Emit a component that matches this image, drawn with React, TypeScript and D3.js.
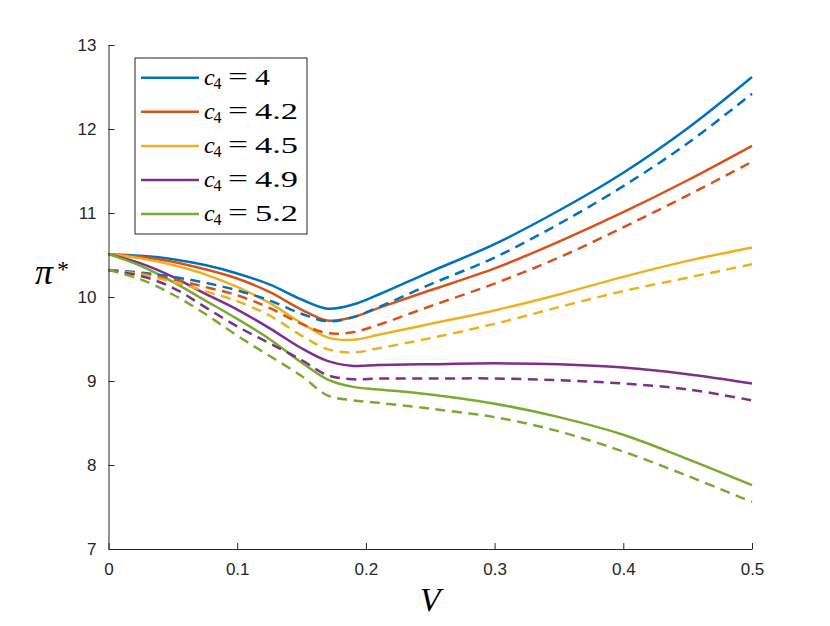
import React, { useEffect, useRef } from "react";
import * as d3 from "d3";

// V grid shared by all curves
const V = [0, 0.025, 0.05, 0.075, 0.1, 0.125, 0.15, 0.17, 0.19, 0.21, 0.25, 0.3, 0.35, 0.4, 0.45, 0.5];

const c4Labels = ["4", "4.2", "4.5", "4.9", "5.2"];
const colors = ["#0072BD", "#D95319", "#EDB120", "#7E2F8E", "#77AC30"];

// solid lines
const blueSolid = [10.51, 10.49, 10.45, 10.38, 10.28, 10.15, 9.97, 9.86, 9.91, 10.03, 10.3, 10.63, 11.03, 11.48, 12.01, 12.62];
const redSolid = [10.51, 10.48, 10.42, 10.33, 10.22, 10.06, 9.85, 9.72, 9.76, 9.87, 10.08, 10.34, 10.66, 11.01, 11.39, 11.8];
const yellowSolid = [10.51, 10.46, 10.38, 10.27, 10.12, 9.93, 9.69, 9.52, 9.49, 9.55, 9.68, 9.84, 10.03, 10.24, 10.43, 10.59];
const purpleSolid = [10.51, 10.4, 10.24, 10.04, 9.85, 9.63, 9.39, 9.24, 9.18, 9.19, 9.2, 9.21, 9.2, 9.16, 9.08, 8.97];
const greenSolid = [10.51, 10.37, 10.18, 9.96, 9.74, 9.5, 9.22, 9.02, 8.93, 8.9, 8.84, 8.73, 8.57, 8.36, 8.07, 7.76];

// dashed lines
const blueDashed = [10.32, 10.29, 10.24, 10.17, 10.08, 9.96, 9.8, 9.71, 9.76, 9.88, 10.15, 10.47, 10.87, 11.32, 11.83, 12.42];
const redDashed = [10.32, 10.28, 10.21, 10.12, 10.02, 9.87, 9.68, 9.57, 9.58, 9.67, 9.89, 10.16, 10.47, 10.83, 11.21, 11.61];
const yellowDashed = [10.32, 10.27, 10.18, 10.07, 9.95, 9.78, 9.54, 9.38, 9.34, 9.39, 9.51, 9.68, 9.88, 10.07, 10.23, 10.39];
const purpleDashed = [10.32, 10.25, 10.11, 9.88, 9.65, 9.45, 9.25, 9.07, 9.02, 9.03, 9.03, 9.03, 9.01, 8.97, 8.9, 8.77];
const greenDashed = [10.32, 10.21, 10.03, 9.8, 9.54, 9.3, 9.06, 8.83, 8.77, 8.74, 8.67, 8.57, 8.4, 8.16, 7.87, 7.56];

const xTicks = [0, 0.1, 0.2, 0.3, 0.4, 0.5];
const yTicks = [7, 8, 9, 10, 11, 12, 13];

export default function App() {
  const ref = useRef<SVGSVGElement>(null);

  useEffect(() => {
    const W = 830;
    const H = 626;
    const margin = { top: 45, right: 78, bottom: 77, left: 108.5 };
    const width = W - margin.left - margin.right;
    const height = H - margin.top - margin.bottom;
    const axisColor = "#262626";
    const serif = "'Liberation Serif', 'Times New Roman', serif";

    const svg = d3.select(ref.current).attr("width", W).attr("height", H);
    svg.selectAll("*").remove();
    svg.append("rect").attr("width", W).attr("height", H).attr("fill", "white");

    const g = svg.append("g").attr("transform", `translate(${margin.left},${margin.top})`);

    const x = d3.scaleLinear().domain([0, 0.5]).range([0, width]);
    const y = d3.scaleLinear().domain([7, 13]).range([height, 0]);

    const line = d3
      .line<number>()
      .x((_, i) => x(V[i]))
      .y((d) => y(d))
      .curve(d3.curveCatmullRom.alpha(0.5));

    const solids = [blueSolid, redSolid, yellowSolid, purpleSolid, greenSolid];
    const dashed = [blueDashed, redDashed, yellowDashed, purpleDashed, greenDashed];

    solids.forEach((s, i) => {
      g.append("path")
        .attr("d", line(s))
        .attr("fill", "none")
        .attr("stroke", colors[i])
        .attr("stroke-width", 2.5);
    });
    dashed.forEach((s, i) => {
      g.append("path")
        .attr("d", line(s))
        .attr("fill", "none")
        .attr("stroke", colors[i])
        .attr("stroke-width", 2.5)
        .attr("stroke-dasharray", "10,6.5");
    });

    // x axis, ticks pointing inward
    const xAxis = g
      .append("g")
      .attr("transform", `translate(0,${height})`)
      .call(
        d3
          .axisBottom(x)
          .tickValues(xTicks)
          .tickSizeInner(-6)
          .tickSizeOuter(0)
          .tickPadding(14)
          .tickFormat((d) => String(d))
      );
    // y axis, ticks pointing inward
    const yAxis = g.append("g").call(
      d3
        .axisLeft(y)
        .tickValues(yTicks)
        .tickSizeInner(-6)
        .tickSizeOuter(0)
        .tickPadding(12)
        .tickFormat((d) => String(d))
    );
    [xAxis, yAxis].forEach((a) => {
      a.select(".domain").attr("stroke", axisColor).attr("stroke-width", 1);
      a.selectAll(".tick line").attr("stroke", axisColor);
      a.selectAll(".tick text")
        .attr("fill", axisColor)
        .attr("font-family", "'Liberation Sans', Arial, sans-serif")
        .attr("font-size", 17);
    });

    // axis labels
    svg
      .append("text")
      .attr("x", margin.left + width / 2)
      .attr("y", 611)
      .attr("text-anchor", "middle")
      .attr("font-family", serif)
      .attr("font-style", "italic")
      .attr("font-size", 34)
      .attr("fill", "#000")
      .text("V");

    svg
      .append("text")
      .attr("x", 35)
      .attr("y", 284)
      .attr("font-family", serif)
      .attr("font-style", "italic")
      .attr("font-size", 36)
      .attr("fill", "#000")
      .text("π");
    svg
      .append("text")
      .attr("x", 57)
      .attr("y", 277)
      .attr("font-family", serif)
      .attr("font-size", 24)
      .attr("fill", "#000")
      .text("*");

    // legend
    const leg = svg.append("g");
    leg.append("rect")
      .attr("x", 135)
      .attr("y", 58)
      .attr("width", 172)
      .attr("height", 176)
      .attr("fill", "white")
      .attr("stroke", axisColor)
      .attr("stroke-width", 1);
    c4Labels.forEach((lab, i) => {
      const ry = 77.7 + i * 34.1;
      leg.append("line")
        .attr("x1", 141)
        .attr("x2", 199)
        .attr("y1", ry)
        .attr("y2", ry)
        .attr("stroke", colors[i])
        .attr("stroke-width", 2.5);
      const base = ry + 7;
      leg.append("text")
        .attr("x", 204)
        .attr("y", base)
        .attr("font-family", serif)
        .attr("font-style", "italic")
        .attr("font-size", 24)
        .text("c");
      leg.append("text")
        .attr("x", 213.5)
        .attr("y", base + 4)
        .attr("font-family", serif)
        .attr("font-size", 16)
        .text("4");
      leg.append("text")
        .attr("x", 228)
        .attr("y", base - 1)
        .attr("font-family", serif)
        .attr("font-size", 24)
        .attr("textLength", 20)
        .attr("lengthAdjust", "spacingAndGlyphs")
        .text("=");
      leg.append("text")
        .attr("x", 255)
        .attr("y", base)
        .attr("font-family", serif)
        .attr("font-size", 24)
        .attr("textLength", lab.length > 1 ? 43 : 15)
        .attr("lengthAdjust", "spacingAndGlyphs")
        .text(lab);
    });
  }, []);

  return (
    <div style={{ position: "absolute", left: 0, top: 0 }}>
      <svg ref={ref}></svg>
    </div>
  );
}
